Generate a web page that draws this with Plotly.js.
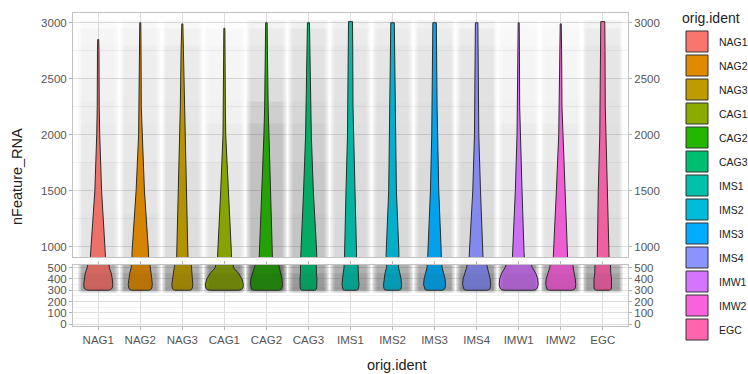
<!DOCTYPE html>
<html><head><meta charset="utf-8">
<script src="https://cdn.plot.ly/plotly-3.0.1.min.js"></script>
<style>html,body{margin:0;padding:0;background:#fff}</style>
</head><body>
<div id="chart" style="width:748px;height:374px"></div>
<script>
// ---------------- data ----------------
const categories = ['NAG1','NAG2','NAG3','CAG1','CAG2','CAG3','IMS1','IMS2','IMS3','IMS4','IMW1','IMW2','EGC'];
const colors = ['#F8766D','#E18A00','#BE9C00','#8CAB00','#24B700','#00BE70','#00C1AB','#00BBDA','#00ACFC','#8B93FF','#D575FE','#F962DD','#FF65AC'];

// nFeature_RNA levels at which the violin widths were read
const levels = [300,305,320,350,400,450,500,600,750,950,1500,2000,2250,2750];
// maximum value (violin tip) per group
const topValue = [2850,3000,2990,2950,3000,3000,3010,3000,3000,3000,3000,2990,3010];

// violin full widths (as px on a 42px category slot) at each level, last entry = width at tip
const widthNAG1 = [20,25,28,29,28,26,22,19,16,14,6.7,3,2,1.5,1];
const widthNAG2 = [17,21,23,24,23,21,18,17,16.7,16.5,8.3,3.3,2,1.5,1];
const widthNAG3 = [15,18,20,21,20,18,16,13,12,11,8,5.3,4,2.5,1];
const widthCAG1 = [28,34,37,38,35,28,18,16,15,14,7.3,2.7,2,1.5,1];
const widthCAG2 = [24,29,31,32,31,28,24,17,13,11.7,8.3,5,3.5,2,1.5];
const widthCAG3 = [12,15,16.5,17,17,16,15,16,17,16.5,9.7,5.7,4.5,3,2];
const widthIMS1 = [12,15,16,17,16,15,13,12,12,12,9,6,5,4.5,4];
const widthIMS2 = [12,16,17.5,18,17,15,12,12,12.5,12.7,7.7,6,5,4,3.5];
const widthIMS3 = [15,19,21,22,21,18,15,14,13.5,13.3,8.3,5.7,5,4,3.5];
const widthIMS4 = [20,25,27,28,27,24,20,16,14,12.7,7.7,4.3,3.5,3,2.5];
const widthIMW1 = [28,34,37,39,38,34,27,19,14,10.7,6.7,3.3,2,1.5,1];
const widthIMW2 = [22,27,29,30,29,26,22,18,15,13.3,8.7,4,2.5,1.8,1];
const widthEGC  = [13,16,17.5,18,17.5,16,15,14,13,12.3,9,6,5,4.5,4];
const widths = [widthNAG1,widthNAG2,widthNAG3,widthCAG1,widthCAG2,widthCAG3,widthIMS1,widthIMS2,widthIMS3,widthIMS4,widthIMW1,widthIMW2,widthEGC];
const slotPx = 42;

// jittered-point cloud density (0..1) per nFeature_RNA band, per group
const cloudTopEdges = [900,1300,1750,2100,2300,2500,2800,2950,3020];
const cloudTop = [
  [0.13,0.15,0.17,0.13,0.33,0.30,0.19,0.19,0.19,0.19,0.13,0.13,0.17],
  [0.12,0.13,0.16,0.12,0.32,0.28,0.18,0.18,0.18,0.18,0.12,0.12,0.16],
  [0.10,0.11,0.13,0.10,0.30,0.24,0.16,0.16,0.16,0.16,0.10,0.10,0.15],
  [0.08,0.10,0.12,0.07,0.24,0.21,0.15,0.15,0.15,0.15,0.07,0.07,0.14],
  [0.07,0.09,0.11,0.06,0.17,0.18,0.14,0.14,0.14,0.14,0.06,0.06,0.13],
  [0.06,0.08,0.10,0.05,0.12,0.14,0.12,0.12,0.12,0.12,0.05,0.05,0.12],
  [0.05,0.06,0.07,0.04,0.10,0.12,0.10,0.10,0.10,0.10,0.04,0.04,0.10],
  [0.02,0.03,0.03,0.01,0.06,0.07,0.07,0.07,0.07,0.06,0.02,0.02,0.06]
];
const cloudBottomEdges = [280,292,305,330,450,525];
const cloudBottom = [
  [0.20,0.20,0.20,0.28,0.35,0.24,0.20,0.20,0.20,0.24,0.24,0.20,0.20],
  [0.45,0.45,0.45,0.62,0.75,0.50,0.45,0.45,0.45,0.55,0.55,0.45,0.45],
  [0.55,0.55,0.55,0.75,0.90,0.60,0.55,0.55,0.55,0.65,0.65,0.55,0.55],
  [0.50,0.50,0.50,0.70,0.90,0.55,0.50,0.50,0.50,0.60,0.60,0.50,0.50],
  [0.42,0.42,0.42,0.60,0.80,0.45,0.42,0.42,0.42,0.50,0.50,0.42,0.42]
];

const topTicks = [1000,1500,2000,2500,3000];
const bottomTicks = [0,100,200,300,400,500];

// ---------------- build traces ----------------
const idx = categories.map((_, i) => i);
const traces = [];

// horizontal profile of a jitter cloud (style): cell edges within a slot and weights
const cloudEdgeOffsets = [-0.47, -0.43, -0.39, 0.39, 0.43, 0.47];
const cloudWeights = [0.4, 0.75, 1, 0.75, 0.4];
const cloudX = [];
idx.forEach(i => cloudEdgeOffsets.forEach(o => cloudX.push(i + o)));
function expand(rows) {
  return rows.map(r => {
    const out = [];
    r.forEach((v, i) => {
      cloudWeights.forEach(w => out.push(v * w));
      if (i < r.length - 1) out.push(0); // gap between groups
    });
    return out;
  });
}

function cloud(edges, rows, yaxis, under) {
  return {
    type: 'heatmap', x: cloudX, y: edges, z: expand(rows), xaxis: 'x', yaxis: yaxis,
    zmin: 0, zmax: 1, showscale: false, hoverinfo: 'skip',
    colorscale: under
      ? [[0,'rgba(95,95,95,0)'],[1,'rgba(95,95,95,0.72)']]
      : [[0,'rgba(35,35,35,0)'],[1,'rgba(35,35,35,0.42)']]
  };
}
traces.push(cloud(cloudTopEdges, cloudTop, 'y', true));
traces.push(cloud(cloudBottomEdges, cloudBottom, 'y2', true));

categories.forEach((c, i) => {
  const w = widths[i];
  const ys = levels.concat([topValue[i]]);
  const right = ys.map((y, k) => i + w[k] / slotPx / 2);
  const left = ys.map((y, k) => i - w[k] / slotPx / 2);
  const xs = right.concat(left.slice().reverse(), [right[0]]);
  const yy = ys.concat(ys.slice().reverse(), [ys[0]]);
  ['y','y2'].forEach(ax => {
    traces.push({
      type: 'scatter', mode: 'lines', x: xs, y: yy, xaxis: 'x', yaxis: ax,
      fill: 'toself', fillcolor: colors[i],
      line: {color: '#2b2b2b', width: 1}, showlegend: false, hoverinfo: 'skip'
    });
  });
});

traces.push(cloud(cloudTopEdges, cloudTop, 'y3', false));
traces.push(cloud(cloudBottomEdges, cloudBottom, 'y4', false));

// ---------------- layout ----------------
const W = 748, H = 374, mL = 73, mR = 120, mT = 13, mB = 48;
const pw = W - mL - mR, ph = H - mT - mB;
const px2x = p => (p - mL) / pw;
const px2y = p => (H - mB - p) / ph;

const tickFont = {family: 'Liberation Sans, Arial, sans-serif', size: 11.5, color: '#555'};
const gridC = '#dedede', minorC = '#ececec', lineC = '#c2c2c2';

const shapes = [], annotations = [];
categories.forEach((c, i) => {
  const top = 31 + 24 * i;
  shapes.push({type: 'rect', xref: 'paper', yref: 'paper',
    x0: px2x(686), x1: px2x(708), y0: px2y(top + 21), y1: px2y(top),
    fillcolor: colors[i], line: {color: '#333', width: 1}});
  annotations.push({xref: 'paper', yref: 'paper', x: px2x(717), y: px2y(top + 10.5),
    xanchor: 'left', yanchor: 'middle', text: c, showarrow: false,
    font: {family: 'Liberation Sans, Arial, sans-serif', size: 10.5, color: '#222'}});
});
annotations.push({xref: 'paper', yref: 'paper', x: px2x(680), y: px2y(18),
  xanchor: 'left', yanchor: 'middle', text: 'orig.ident', showarrow: false,
  font: {family: 'Liberation Sans, Arial, sans-serif', size: 14, color: '#222'}});
annotations.push({xref: 'paper', yref: 'paper', x: px2x(17), y: px2y(177),
  xanchor: 'center', yanchor: 'middle', textangle: -90, text: 'nFeature_RNA', showarrow: false,
  font: {family: 'Liberation Sans, Arial, sans-serif', size: 14.5, color: '#222'}});
annotations.push({xref: 'paper', yref: 'paper', x: px2x(397), y: px2y(365),
  xanchor: 'center', yanchor: 'middle', text: 'orig.ident', showarrow: false,
  font: {family: 'Liberation Sans, Arial, sans-serif', size: 14.5, color: '#222'}});

const topDomain = [px2y(257), 1];
const botDomain = [0, px2y(265)];
const topRange = [908, 3087], botRange = [-15, 522];

const yBase = {
  showline: true, mirror: true, linecolor: lineC, linewidth: 1,
  ticks: 'outside', ticklen: 3, tickcolor: '#b3b3b3', tickfont: tickFont,
  showgrid: true, gridcolor: gridC, gridwidth: 1, zeroline: false, fixedrange: true
};
const yRight = {
  side: 'right', anchor: 'x', showgrid: false, zeroline: false, showline: false,
  ticks: 'outside', ticklen: 3, tickcolor: '#b3b3b3', tickfont: tickFont, fixedrange: true
};

const layout = {
  width: W, height: H, margin: {l: mL, r: mR, t: mT, b: mB},
  paper_bgcolor: '#fff', plot_bgcolor: '#fff', showlegend: false,
  font: {family: 'Liberation Sans, Arial, sans-serif'},
  xaxis: {
    domain: [0, 1], anchor: 'y2', range: [-0.6, 12.6],
    tickvals: idx, ticktext: categories, tickfont: tickFont,
    showgrid: true, gridcolor: gridC, zeroline: false,
    showline: true, mirror: 'all', linecolor: lineC, linewidth: 1,
    ticks: 'outside', ticklen: 3, tickcolor: '#b3b3b3', fixedrange: true
  },
  yaxis: Object.assign({}, yBase, {domain: topDomain, anchor: 'x', range: topRange,
    tickvals: topTicks, minor: {dtick: 250, tick0: 0, showgrid: true, gridcolor: minorC, gridwidth: 0.7}}),
  yaxis2: Object.assign({}, yBase, {domain: botDomain, anchor: 'x', range: botRange,
    tickvals: bottomTicks, minor: {dtick: 50, tick0: 0, showgrid: true, gridcolor: minorC, gridwidth: 0.7}}),
  yaxis3: Object.assign({}, yRight, {overlaying: 'y', range: topRange, tickvals: topTicks}),
  yaxis4: Object.assign({}, yRight, {overlaying: 'y2', range: botRange, tickvals: bottomTicks}),
  shapes: shapes, annotations: annotations
};

Plotly.newPlot('chart', traces, layout, {staticPlot: true, displayModeBar: false});
</script>
</body></html>
